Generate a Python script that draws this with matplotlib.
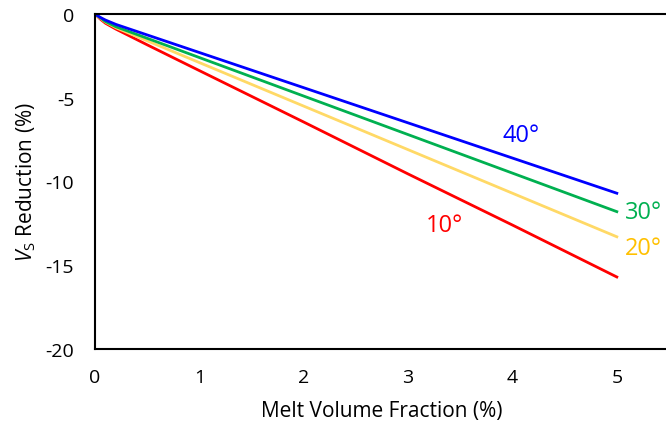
import matplotlib
matplotlib.use("Agg")
import matplotlib.pyplot as plt

plt.rcParams['font.family'] = ['Open Sans', 'DejaVu Sans']
plt.rcParams['mathtext.fontset'] = 'custom'
plt.rcParams['mathtext.rm'] = 'Open Sans'
plt.rcParams['mathtext.it'] = 'Open Sans:italic'

melt = [0, 0.05, 0.1, 0.2, 0.5, 1, 2, 3, 4, 5]
vs_10 = [0, -0.3, -0.55, -0.9, -1.84, -3.38, -6.45, -9.55, -12.6, -15.7]
vs_20 = [0, -0.25, -0.48, -0.82, -1.6, -2.9, -5.5, -8.1, -10.7, -13.3]
vs_30 = [0, -0.22, -0.45, -0.76, -1.45, -2.6, -4.9, -7.2, -9.5, -11.8]
vs_40 = [0, -0.2, -0.36, -0.62, -1.25, -2.3, -4.4, -6.5, -8.6, -10.7]

x_ticks = [0, 1, 2, 3, 4, 5]
y_ticks = [0, -5, -10, -15, -20]

fig = plt.figure(figsize=(6.66, 4.27), dpi=100)
ax = fig.add_axes([95/666, 77/427, 574/666, 335/427])

ax.plot(melt, vs_10, color='#FF0000', lw=2.0)
ax.plot(melt, vs_20, color='#FFD966', lw=2.0)
ax.plot(melt, vs_30, color='#00B050', lw=2.0)
ax.plot(melt, vs_40, color='#0000FF', lw=2.0)

ax.text(3.17, -12.6, '10°', color='#FF0000', fontsize=17, ha='left', va='center')
ax.text(5.08, -14.0, '20°', color='#FFC000', fontsize=17, ha='left', va='center')
ax.text(5.08, -11.8, '30°', color='#00B050', fontsize=17, ha='left', va='center')
ax.text(3.9, -7.2, '40°', color='#0000FF', fontsize=17, ha='left', va='center')

ax.set_xlim(0, 5.5)
ax.set_ylim(-20, 0)
ax.set_xticks(x_ticks)
ax.set_yticks(y_ticks)
ax.set_yticklabels([str(v) for v in y_ticks])
ax.tick_params(axis='x', length=0, labelsize=14, pad=14)
ax.tick_params(axis='y', length=0, labelsize=14, pad=15)
for s in ax.spines.values():
    s.set_linewidth(1.5)
    s.set_color('black')

ax.set_xlabel('Melt Volume Fraction (%)', fontsize=15, labelpad=10)
ax.set_ylabel(r'$V_\mathrm{S}$ Reduction (%)', fontsize=15, labelpad=5)

fig.savefig('out.png', dpi=100)
